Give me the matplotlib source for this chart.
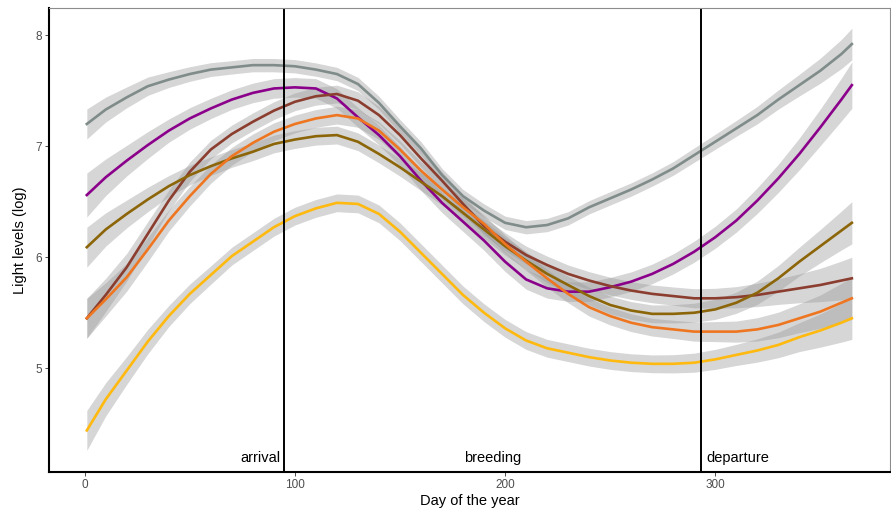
import numpy as np
import matplotlib
matplotlib.use('Agg')
import matplotlib.pyplot as plt

plt.rcParams['font.family'] = ['Liberation Sans', 'DejaVu Sans']

days = [1, 10, 20, 30, 40, 50, 60, 70, 80, 90, 100, 110, 120, 130, 140, 150, 160, 170, 180,
        190, 200, 210, 220, 230, 240, 250, 260, 270, 280, 290, 300, 310, 320, 330, 340, 350, 360, 365]

grey_site = [7.20, 7.33, 7.44, 7.54, 7.60, 7.65, 7.69, 7.71, 7.73, 7.73, 7.72, 7.69, 7.65, 7.56,
             7.39, 7.18, 6.98, 6.74, 6.55, 6.42, 6.31, 6.27, 6.29, 6.35, 6.45, 6.53, 6.61, 6.70,
             6.80, 6.92, 7.04, 7.16, 7.28, 7.42, 7.55, 7.68, 7.83, 7.92]
purple_site = [6.56, 6.72, 6.87, 7.01, 7.14, 7.25, 7.34, 7.42, 7.48, 7.52, 7.53, 7.52, 7.43, 7.26,
               7.10, 6.91, 6.69, 6.49, 6.32, 6.15, 5.96, 5.80, 5.72, 5.69, 5.69, 5.73, 5.78, 5.85,
               5.94, 6.05, 6.18, 6.33, 6.51, 6.71, 6.93, 7.17, 7.42, 7.55]
brown_site = [5.45, 5.66, 5.91, 6.21, 6.51, 6.77, 6.97, 7.11, 7.22, 7.32, 7.40, 7.45, 7.47, 7.41,
              7.28, 7.10, 6.89, 6.69, 6.48, 6.28, 6.14, 6.02, 5.93, 5.85, 5.79, 5.74, 5.70, 5.67,
              5.65, 5.63, 5.63, 5.64, 5.66, 5.69, 5.72, 5.75, 5.79, 5.81]
olive_site = [6.09, 6.25, 6.39, 6.52, 6.64, 6.74, 6.82, 6.89, 6.95, 7.02, 7.06, 7.09, 7.10, 7.04,
              6.93, 6.81, 6.68, 6.55, 6.40, 6.25, 6.10, 5.97, 5.85, 5.75, 5.65, 5.57, 5.52, 5.49,
              5.49, 5.50, 5.53, 5.59, 5.68, 5.81, 5.96, 6.10, 6.24, 6.31]
orange_site = [5.45, 5.62, 5.82, 6.07, 6.33, 6.55, 6.75, 6.91, 7.03, 7.13, 7.20, 7.25, 7.28, 7.25,
               7.14, 6.97, 6.78, 6.61, 6.45, 6.30, 6.12, 5.96, 5.81, 5.67, 5.55, 5.47, 5.41, 5.37,
               5.35, 5.33, 5.33, 5.33, 5.35, 5.39, 5.45, 5.51, 5.59, 5.63]
yellow_site = [4.44, 4.72, 4.98, 5.24, 5.47, 5.67, 5.84, 6.01, 6.14, 6.27, 6.37, 6.44, 6.49, 6.48,
               6.39, 6.23, 6.04, 5.85, 5.66, 5.50, 5.36, 5.25, 5.18, 5.14, 5.10, 5.07, 5.05, 5.04,
               5.04, 5.05, 5.08, 5.12, 5.16, 5.21, 5.28, 5.34, 5.41, 5.45]

# half width of the confidence ribbon
se_band = [0.18, 0.15, 0.125, 0.11, 0.095, 0.088, 0.083, 0.08, 0.08, 0.08, 0.08, 0.08, 0.08, 0.08,
           0.08, 0.08, 0.08, 0.08, 0.08, 0.08, 0.08, 0.08, 0.08, 0.08, 0.08, 0.08, 0.08, 0.08,
           0.082, 0.086, 0.09, 0.095, 0.105, 0.115, 0.13, 0.15, 0.175, 0.19]

series = [grey_site, purple_site, brown_site, olive_site, orange_site, yellow_site]
colors = ['#7F8C8A', '#8B008B', '#8B3E2F', '#8B6508', '#EE7621', '#FFB90F']
se_scale = [0.75, 1.1, 1.0, 1.0, 1.0, 1.0]

phases = ['arrival', 'breeding', 'departure']
arrival_day, departure_day = 95, 293

fig = plt.figure(figsize=(8.91, 5.12), dpi=100)
ax = fig.add_axes([0.0545, 0.078, 0.9445, 0.906])

x = np.array(days)
se = np.array(se_band)
for y, c, s in zip(series, colors, se_scale):
    y = np.array(y)
    ax.fill_between(x, y - se * s, y + se * s, color='#999999', alpha=0.4, lw=0)
    ax.plot(x, y, color=c, lw=1.9, solid_joinstyle='round')

ax.axvline(arrival_day, color='black', lw=1.4)
ax.axvline(departure_day, color='black', lw=1.4)
ax.text(arrival_day - 2, 4.19, phases[0], ha='right', va='center', fontsize=10.5)
ax.text((arrival_day + departure_day) / 2, 4.19, phases[1], ha='center', va='center', fontsize=10.5)
ax.text(departure_day + 3, 4.19, phases[2], ha='left', va='center', fontsize=10.5)

ax.set_xlim(-17.2, 383.2)
ax.set_ylim(4.065, 8.243)
ax.set_xticks([0, 100, 200, 300])
ax.set_yticks([5, 6, 7, 8])
ax.tick_params(length=3, width=0.6, color='#333333', labelcolor='#4D4D4D', labelsize=8.5, pad=2)
ax.set_xlabel('Day of the year', fontsize=10.5, labelpad=2)
ax.set_ylabel('Light levels (log)', fontsize=10.5, labelpad=6)

for side in ['left', 'bottom']:
    ax.spines[side].set_linewidth(1.5)
    ax.spines[side].set_color('black')
for side in ['top', 'right']:
    ax.spines[side].set_linewidth(0.8)
    ax.spines[side].set_color('#8C8C8C')

plt.savefig('out.png', dpi=100)
